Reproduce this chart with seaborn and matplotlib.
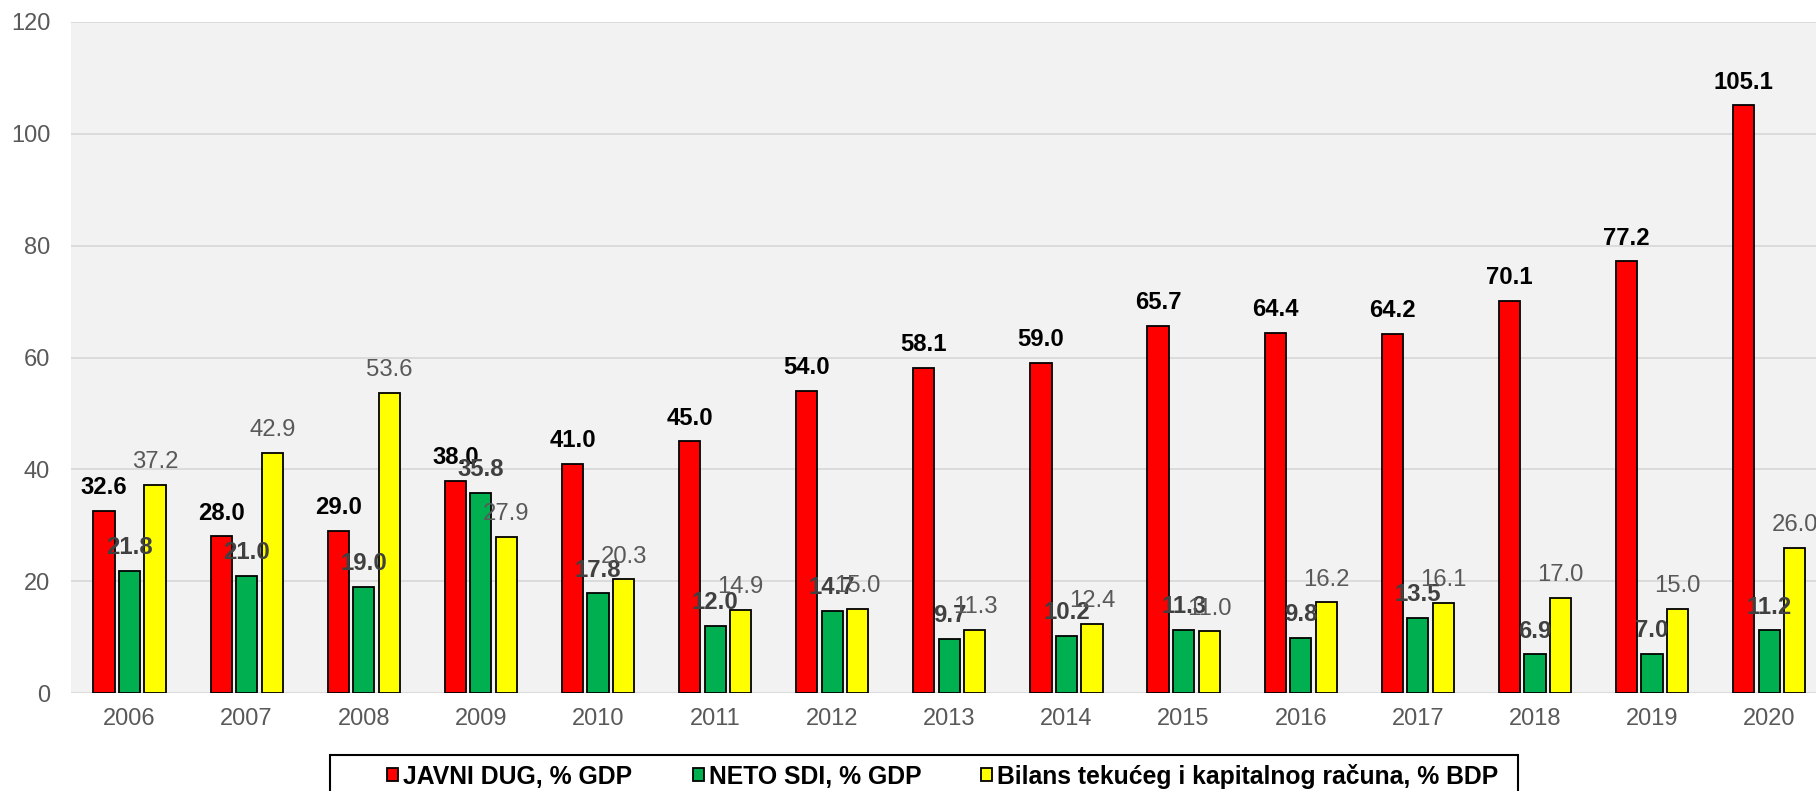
import matplotlib
matplotlib.use("Agg")
import matplotlib.pyplot as plt
import seaborn as sns
import pandas as pd
from matplotlib.patches import Patch, Rectangle

years = ["2006", "2007", "2008", "2009", "2010", "2011", "2012", "2013",
         "2014", "2015", "2016", "2017", "2018", "2019", "2020"]
javni_dug = [32.6, 28.0, 29.0, 38.0, 41.0, 45.0, 54.0, 58.1, 59.0, 65.7,
             64.4, 64.2, 70.1, 77.2, 105.1]
neto_sdi = [21.8, 21.0, 19.0, 35.8, 17.8, 12.0, 14.7, 9.7, 10.2, 11.3,
            9.8, 13.5, 6.9, 7.0, 11.2]
bilans = [37.2, 42.9, 53.6, 27.9, 20.3, 14.9, 15.0, 11.3, 12.4, 11.0,
          16.2, 16.1, 17.0, 15.0, 26.0]
series_names = ["JAVNI DUG, % GDP", "NETO SDI, % GDP",
                "Bilans tekućeg i kapitalnog računa, % BDP"]
colors = ["#ff0000", "#00b050", "#ffff00"]
yticks = [0, 20, 40, 60, 80, 100, 120]

rows = []
for name, vals in zip(series_names, [javni_dug, neto_sdi, bilans]):
    for y, v in zip(years, vals):
        rows.append({"year": y, "value": v, "series": name})
df = pd.DataFrame(rows)

sns.set_style("whitegrid", {"axes.facecolor": "#f2f2f2", "grid.color": "#d9d9d9"})
plt.rcParams["font.family"] = ["Liberation Sans", "DejaVu Sans"]

W, H = 1816, 791
fig = plt.figure(figsize=(W / 100, H / 100), dpi=100)
ax = fig.add_axes([71 / W, 1 - 693 / H, 1 - 71 / W, (693 - 22) / H])

sns.barplot(data=df, x="year", y="value", hue="series", hue_order=series_names,
            palette=colors, width=0.654, gap=0.17, edgecolor="black",
            linewidth=1.3, saturation=1, ax=ax, legend=False, errorbar=None)

label_styles = [
    dict(color="black", fontweight="bold"),
    dict(color="#404040", fontweight="bold"),
    dict(color="#595959", fontweight="normal"),
]
for cont, st in zip(ax.containers, label_styles):
    ax.bar_label(cont, labels=[f"{v:.1f}" for v in cont.datavalues],
                 padding=8.5, fontsize=17.2, zorder=5, **st)

ax.set_ylim(0, 120)
ax.set_yticks(yticks)
ax.set_xlim(-0.5, 14.4)
ax.set_xlabel("")
ax.set_ylabel("")
ax.grid(axis="y", color="#d9d9d9", linewidth=1.3)
ax.grid(axis="x", visible=False)
ax.set_axisbelow(True)
for s in ax.spines.values():
    s.set_visible(False)
ax.tick_params(axis="y", length=0, pad=15, labelsize=17, labelcolor="#595959")
ax.tick_params(axis="x", length=0, pad=11, labelsize=17, labelcolor="#595959")

# legend box (frame drawn separately so it matches the reference width)
fig.patches.append(Rectangle((330 / W, -12 / H), 1188 / W, (12 + 36) / H,
                             transform=fig.transFigure, facecolor="white",
                             edgecolor="black", linewidth=1.5, zorder=0))

handles = [Patch(facecolor=c, edgecolor="black", linewidth=1.3) for c in colors]
leg = fig.legend(handles, series_names, loc="upper center",
                 bbox_to_anchor=(943 / W, 1 - 755 / H), ncol=3, frameon=False,
                 prop={"weight": "bold", "size": 17.8},
                 handlelength=0.45, handleheight=0.45, handletextpad=0.2,
                 columnspacing=2.43, borderpad=0.35, borderaxespad=0)
for t in leg.get_texts():
    t.set_color("black")

fig.savefig("out.png", dpi=100)
